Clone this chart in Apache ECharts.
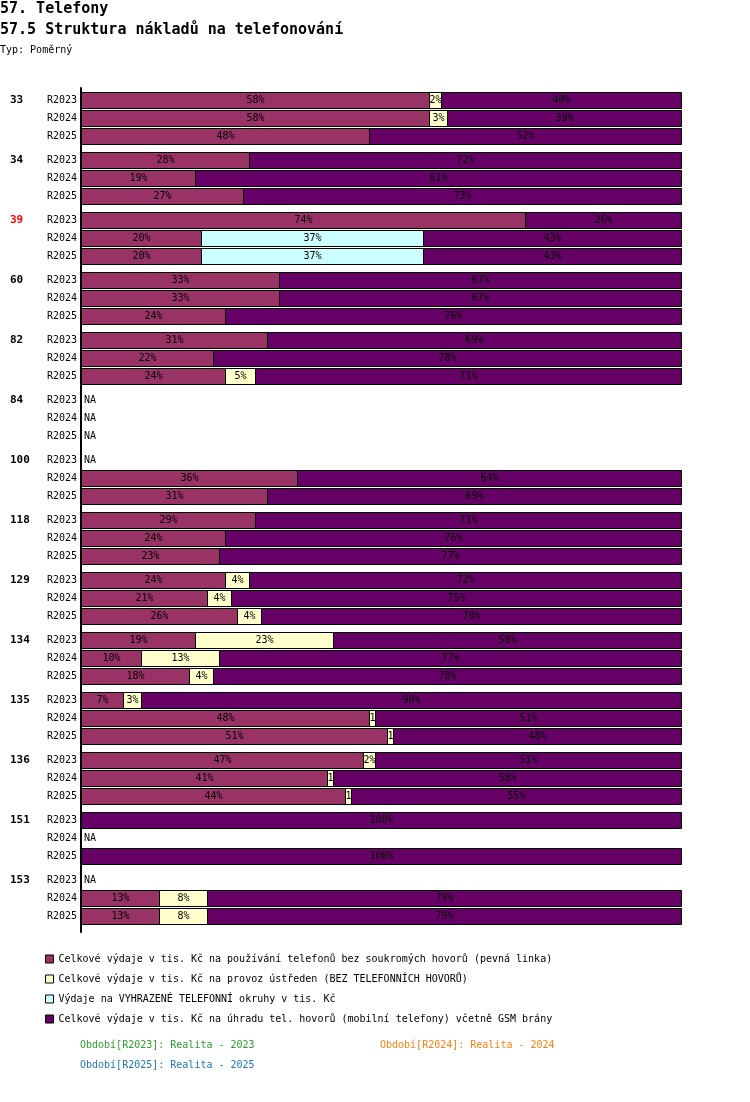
<!DOCTYPE html>
<html>
<head>
<meta charset="utf-8">
<script src="https://cdn.jsdelivr.net/npm/echarts@6/dist/echarts.min.js"></script>
<style>
  html, body { margin: 0; padding: 0; background: #fff; }
  #chart { width: 750px; height: 1102px; }
</style>
</head>
<body>
<div id="chart"></div>
<script>
// groups (rows of the table) and periods
const groups = ['33', '34', '39', '60', '82', '84', '100', '118', '129', '134', '135', '136', '151', '153'];
const years = ['R2023', 'R2024', 'R2025'];
const highlighted = ['39'];

const seriesNames = [
  'Celkové výdaje v tis. Kč na používání telefonů bez soukromých hovorů (pevná linka)',
  'Celkové výdaje v tis. Kč na provoz ústředen (BEZ TELEFONNÍCH HOVORŮ)',
  'Výdaje na VYHRAZENÉ TELEFONNÍ okruhy v tis. Kč',
  'Celkové výdaje v tis. Kč na úhradu tel. hovorů (mobilní telefony) včetně GSM brány'
];
const colors = ['#993366', '#ffffcc', '#ccffff', '#660066'];

// percent shares, 3 values per group (R2023, R2024, R2025), null = NA
const pevna = [58, 58, 48, 28, 19, 27, 74, 20, 20, 33, 33, 24, 31, 22, 24, null, null, null, null, 36, 31,
  29, 24, 23, 24, 21, 26, 19, 10, 18, 7, 48, 51, 47, 41, 44, 0, null, 0, null, 13, 13];
const ustredny = [2, 3, 0, 0, 0, 0, 0, 0, 0, 0, 0, 0, 0, 0, 5, null, null, null, null, 0, 0,
  0, 0, 0, 4, 4, 4, 23, 13, 4, 3, 1, 1, 2, 1, 1, 0, null, 0, null, 8, 8];
const okruhy = [0, 0, 0, 0, 0, 0, 0, 37, 37, 0, 0, 0, 0, 0, 0, null, null, null, null, 0, 0,
  0, 0, 0, 0, 0, 0, 0, 0, 0, 0, 0, 0, 0, 0, 0, 0, null, 0, null, 0, 0];
const mobil = [40, 39, 52, 72, 81, 73, 26, 43, 43, 67, 67, 76, 69, 78, 71, null, null, null, null, 64, 69,
  71, 76, 77, 72, 75, 70, 58, 77, 78, 90, 51, 48, 51, 58, 55, 100, null, 100, null, 79, 79];

const periods = [
  { text: 'Období[R2023]: Realita - 2023', color: '#2ca02c' },
  { text: 'Období[R2024]: Realita - 2024', color: '#ff7f0e' },
  { text: 'Období[R2025]: Realita - 2025', color: '#1f77b4' }
];

const MONO = '"DejaVu Sans Mono", "Liberation Mono", monospace';
const allValues = [pevna, ustredny, okruhy, mobil];

// row position on the y axis: 3 units per row, 10 per group (leaves a gap)
function rowPos(i) {
  return Math.floor(i / 3) * 10 + (i % 3) * 3;
}

const rowCount = groups.length * years.length;
const segData = allValues.map(() => []);
for (let i = 0; i < rowCount; i++) {
  let acc = 0;
  allValues.forEach((arr, k) => {
    const v = arr[i];
    if (v != null && v > 0) {
      segData[k].push([acc, acc + v, rowPos(i), v]);
      acc += v;
    }
  });
}

const labelData = [];
for (let i = 0; i < rowCount; i++) {
  labelData.push([rowPos(i), i]);
}

function renderSeg(params, api) {
  const a = api.coord([api.value(0), api.value(2)]);
  const b = api.coord([api.value(1), api.value(2)]);
  const w = b[0] - a[0];
  return {
    type: 'rect',
    shape: { x: Math.round(a[0]) + 0.5, y: Math.round(a[1]) - 8 + 0.5, width: Math.round(w), height: 16 },
    style: { fill: api.visual('color'), stroke: '#000', lineWidth: 1 },
    textContent: {
      style: {
        text: api.value(3) + '%',
        fill: '#000',
        font: '10px ' + MONO,
        width: w + 2,
        overflow: 'truncate',
        ellipsis: ''
      }
    },
    textConfig: { position: 'inside' }
  };
}

function renderLabels(params, api) {
  const i = api.value(1);
  const p = api.coord([0, api.value(0)]);
  const g = groups[Math.floor(i / 3)];
  const children = [{
    type: 'text',
    style: {
      x: p[0] - 4, y: p[1], text: years[i % 3], fill: '#000',
      font: '10px ' + MONO, align: 'right', verticalAlign: 'middle'
    }
  }];
  if (i % 3 === 0) {
    children.push({
      type: 'text',
      style: {
        x: 10, y: p[1], text: g,
        fill: highlighted.includes(g) ? '#ff0000' : '#000',
        font: 'bold 11px ' + MONO, verticalAlign: 'middle'
      }
    });
  }
  if (pevna[i] == null && mobil[i] == null) {
    children.push({
      type: 'text',
      style: {
        x: p[0] + 3, y: p[1], text: 'NA', fill: '#000',
        font: '10px ' + MONO, verticalAlign: 'middle'
      }
    });
  }
  return { type: 'group', children: children };
}

const chart = echarts.init(document.getElementById('chart'));

const series = seriesNames.map((name, k) => ({
  name: name,
  type: 'custom',
  renderItem: renderSeg,
  itemStyle: { color: colors[k] },
  encode: { x: [0, 1], y: 2 },
  data: segData[k],
  animation: false
}));
series.push({
  name: 'labels',
  type: 'custom',
  renderItem: renderLabels,
  encode: { y: 0 },
  data: labelData,
  clip: false,
  silent: true,
  animation: false
});

const titleFont = { fontFamily: MONO, fontSize: 15, fontWeight: 'bold', color: '#000' };

chart.setOption({
  animation: false,
  title: [
    { text: '57. Telefony', left: 0, top: 2, padding: 0, textStyle: titleFont },
    { text: '57.5 Struktura nákladů na telefonování', left: 0, top: 23, padding: 0, textStyle: titleFont },
    { text: 'Typ: Poměrný', left: 0, top: 45, padding: 0, textStyle: { fontFamily: MONO, fontSize: 10, fontWeight: 'normal', color: '#000' } }
  ],
  grid: { left: 81, right: 69, top: 88, bottom: 170 },
  xAxis: {
    type: 'value', min: 0, max: 100, show: false
  },
  yAxis: {
    type: 'value', inverse: true, min: -2, max: 844 / 6 - 2,
    axisLine: { show: true, lineStyle: { color: '#000', width: 2 } },
    axisTick: { show: false }, axisLabel: { show: false }, splitLine: { show: false }
  },
  legend: {
    data: seriesNames,
    orient: 'vertical',
    left: 45, top: 953, padding: 0,
    itemWidth: 8, itemHeight: 8, itemGap: 8,
    icon: 'rect',
    itemStyle: { borderColor: '#000', borderWidth: 1 },
    selectedMode: false,
    textStyle: { fontFamily: MONO, fontSize: 10, color: '#000', lineHeight: 12 }
  },
  graphic: periods.map((pr, k) => ({
    type: 'text',
    left: k === 1 ? 380 : 80,
    top: k === 2 ? 1060 : 1040,
    style: { text: pr.text, fill: pr.color, font: '10px ' + MONO }
  })),
  series: series
});
</script>
</body>
</html>
